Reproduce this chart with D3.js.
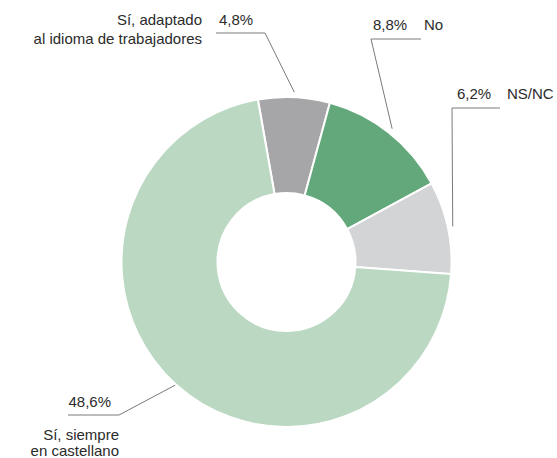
<!DOCTYPE html>
<html>
<head>
<meta charset="utf-8">
<script src="https://cdn.jsdelivr.net/npm/d3@7"></script>
<style>
  html, body { margin: 0; padding: 0; background: #ffffff; }
  svg { display: block; }
  text { font-family: "Liberation Sans", Arial, Helvetica, sans-serif; font-size: 15px; fill: #2b2b2b; }
</style>
</head>
<body>
<svg id="chart" width="557" height="458"></svg>
<script>
// Answer categories, clockwise from the top
const categories = ["Sí, adaptado al idioma de trabajadores", "No", "NS/NC", "Sí, siempre en castellano"];
const values = [4.8, 8.8, 6.2, 48.6];
const valueLabels = ["4,8%", "8,8%", "6,2%", "48,6%"];
const colors = ["#a6a6a8", "#62a87a", "#d3d4d6", "#bad8c2"];

const svg = d3.select("#chart");
const cx = 286.5, cy = 262, outerR = 165, innerR = 69;

const start = -10 * Math.PI / 180;
const pie = d3.pie().sort(null).value(d => d).startAngle(start).endAngle(start + 2 * Math.PI);
const arcs = pie(values);
const arc = d3.arc().innerRadius(innerR).outerRadius(outerR);

const g = svg.append("g").attr("transform", `translate(${cx},${cy})`);
g.selectAll("path.slice")
  .data(arcs)
  .join("path")
  .attr("class", "slice")
  .attr("d", arc)
  .attr("fill", (d, i) => colors[i])
  .attr("stroke", "#ffffff")
  .attr("stroke-width", 2);

// Point just outside a slice, at its middle angle
function anchor(d, r) {
  const a = (d.startAngle + d.endAngle) / 2;
  return [cx + r * Math.sin(a), cy - r * Math.cos(a)];
}

// Leader layout: horizontal shelf by the label, then a segment to the slice
const leaders = [
  { shelf: [[216, 33], [265, 33]], r: 170 },
  { shelf: [[421, 39], [371, 39]], r: 170 },
  { shelf: [[500, 108], [452, 108]], r: 170 },
  { shelf: [[68, 415], [119, 415]], r: 166 }
];

const line = d3.line();
leaders.forEach((l, i) => {
  const pts = [l.shelf[0], l.shelf[1], anchor(arcs[i], l.r)];
  svg.append("path")
    .attr("d", line(pts))
    .attr("fill", "none")
    .attr("stroke", "#7a7a7a")
    .attr("stroke-width", 1);
});

// Labels
function label(x, y, txt, anchorPos) {
  svg.append("text").attr("x", x).attr("y", y).attr("text-anchor", anchorPos || "start").text(txt);
}
label(202, 25, "Sí, adaptado", "end");
label(202, 44, "al idioma de trabajadores", "end");
label(219, 25, valueLabels[0]);

label(373, 30, valueLabels[1]);
label(424, 30, categories[1]);

label(457, 99, valueLabels[2]);
label(507, 99, categories[2]);

label(111, 407, valueLabels[3], "end");
label(119, 440, "Sí, siempre", "end");
label(119, 456, "en castellano", "end");
</script>
</body>
</html>
